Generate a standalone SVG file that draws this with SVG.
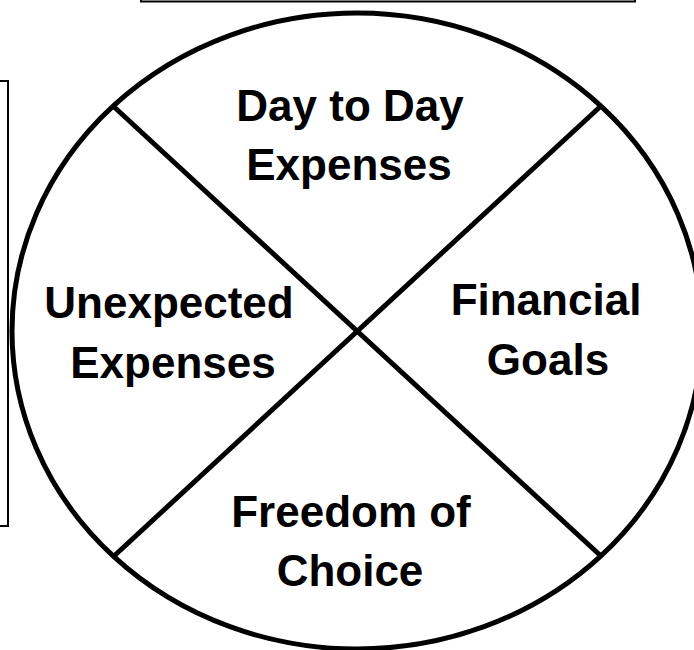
<svg xmlns="http://www.w3.org/2000/svg" width="694" height="650" viewBox="0 0 694 650">
<style>
.frame{fill:none;stroke:#000;stroke-width:2}
.ring{fill:#fff;stroke:#000;stroke-width:5}
.div{stroke:#000;stroke-width:5;stroke-linecap:butt}
.lbl{font-family:"Liberation Sans",Arial,sans-serif;font-weight:bold;font-size:44px;fill:#000;text-anchor:middle}
</style>
<rect width="694" height="650" fill="#fff"/>
<rect id="top-box" class="frame" x="141" y="-10" width="494" height="11.5"/>
<rect id="left-box" class="frame" x="-10" y="81" width="18" height="445"/>
<g id="wheel">
<ellipse class="ring" cx="357" cy="331" rx="345" ry="318"/>
</g>
<g id="connectors">
<line class="div" x1="112" y1="105" x2="602" y2="557"/>
<line class="div" x1="602" y1="105" x2="113" y2="557"/>
</g>
<g id="day-to-day">
<text class="lbl" x="350" y="121">Day to Day</text>
<text class="lbl" x="349" y="180">Expenses</text>
</g>
<g id="unexpected">
<text class="lbl" x="169" y="318">Unexpected</text>
<text class="lbl" x="173" y="378">Expenses</text>
</g>
<g id="financial">
<text class="lbl" x="546" y="315">Financial</text>
<text class="lbl" x="548" y="375">Goals</text>
</g>
<g id="freedom">
<text class="lbl" x="351" y="527">Freedom of</text>
<text class="lbl" x="350" y="586">Choice</text>
</g>
</svg>
